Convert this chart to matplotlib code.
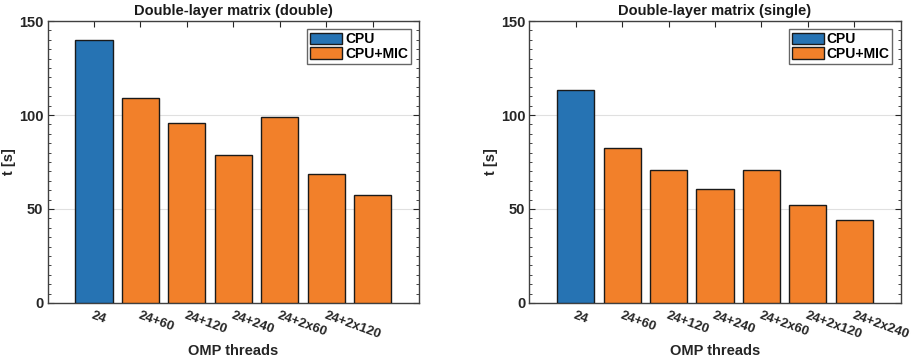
import matplotlib
matplotlib.use("Agg")
import matplotlib.pyplot as plt
from matplotlib.patches import Patch
from matplotlib.ticker import MultipleLocator

plt.rcParams['font.family'] = ['Liberation Sans', 'DejaVu Sans']

labels_double = ["24", "24+60", "24+120", "24+240", "24+2x60", "24+2x120"]
labels_single = ["24", "24+60", "24+120", "24+240", "24+2x60", "24+2x120", "24+2x240"]
cpu_double = [139.7]
mic_double = [109.3, 95.5, 78.6, 99.0, 68.5, 57.2]
cpu_single = [113.2]
mic_single = [82.7, 71.0, 60.4, 70.7, 52.2, 44.3]

titles = ["Double-layer matrix (double)", "Double-layer matrix (single)"]
blue = "#2673B3"
orange = "#F2802A"

fig = plt.figure(figsize=(9.16, 3.61), dpi=100)
positions = [[0.0519, 0.1607, 0.4055, 0.7811], [0.5779, 0.1607, 0.4054, 0.7811]]

datasets = [(cpu_double, mic_double, labels_double), (cpu_single, mic_single, labels_single)]
for pos, (cpu, mic, labs), title in zip(positions, datasets, titles):
    ax = fig.add_axes(pos)
    n_cpu = len(cpu)
    xs_cpu = list(range(1, n_cpu + 1))
    xs_mic = list(range(n_cpu + 1, n_cpu + len(mic) + 1))
    ax.bar(xs_cpu, cpu, width=0.8, color=blue, edgecolor="#1a1a1a", linewidth=1.0, zorder=3)
    ax.bar(xs_mic, mic, width=0.8, color=orange, edgecolor="#1a1a1a", linewidth=1.0, zorder=3)
    ax.set_xlim(0, 8)
    ax.set_ylim(0, 150)
    ax.set_xticks(range(1, 8))
    ticklabels = labs + [""] * (7 - len(labs))
    ax.set_xticklabels(ticklabels, rotation=-20, ha="left", va="top",
                       rotation_mode="anchor", fontsize=9.5, fontweight="bold",
                       color="#262626")
    ax.set_yticks([0, 50, 100, 150])
    ax.yaxis.set_minor_locator(MultipleLocator(5))
    ax.tick_params(axis="y", which="both", left=True, right=True, direction="in",
                   labelsize=10.5, colors="#262626", pad=3)
    ax.tick_params(axis="y", which="major", length=4)
    ax.tick_params(axis="y", which="minor", length=2)
    ax.tick_params(axis="x", which="both", bottom=True, top=True, direction="in", length=4,
                   pad=5, colors="#262626")
    for t in ax.get_yticklabels():
        t.set_fontweight("bold")
    ax.grid(axis="y", which="major", color="#e0e0e0", linewidth=0.8, zorder=0)
    for s in ax.spines.values():
        s.set_color("#404040")
        s.set_linewidth(1.0)
    ax.set_title(title, fontsize=10.5, fontweight="bold", color="#1a1a1a", pad=4)
    ax.set_xlabel("OMP threads", fontsize=10.5, fontweight="bold", color="#262626", labelpad=2)
    ax.set_ylabel("t [s]", fontsize=10.5, fontweight="bold", color="#262626")
    ax.yaxis.set_label_coords(-0.085, 0.5)
    handles = [Patch(facecolor=blue, edgecolor="#1a1a1a", label="CPU"),
               Patch(facecolor=orange, edgecolor="#1a1a1a", label="CPU+MIC")]
    leg = ax.legend(handles=handles, loc="upper right", fontsize=10, frameon=True,
                    fancybox=False, edgecolor="#404040", borderpad=0.2,
                    handlelength=2.3, handleheight=0.9, handletextpad=0.2,
                    labelspacing=0.05, borderaxespad=0.6)
    for t in leg.get_texts():
        t.set_fontweight("bold")
    leg.get_frame().set_linewidth(1.0)

fig.savefig("out.png", dpi=100)
